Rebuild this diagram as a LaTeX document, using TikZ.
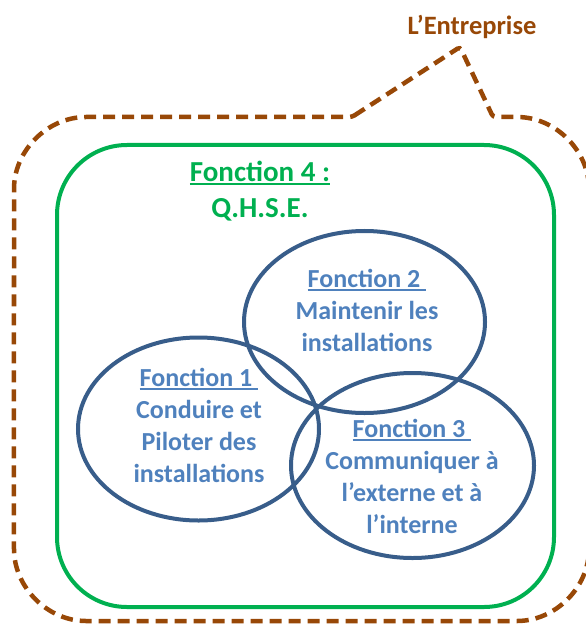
\documentclass[tikz,border=0pt]{standalone}
\usepackage{fontspec}
\setmainfont{Carlito}
\usetikzlibrary{shapes.geometric}
\definecolor{blueline}{HTML}{385D8A}
\definecolor{bluetext}{HTML}{4F81BD}
\definecolor{qgreen}{HTML}{00B050}
\definecolor{brownc}{HTML}{984807}
\newcommand\ulin[1]{\setbox0\hbox{#1}\rlap{\rule[-3.5bp]{\wd0}{2bp}}\box0}
\tikzset{
  callout/.style={draw=brownc, line width=4.5bp, dash pattern=on 12bp off 7bp, rounded corners=3bp},
  qbox/.style={draw=qgreen, line width=4bp, rounded corners=70bp},
  fellipse/.style={ellipse, draw=blueline, line width=4bp, inner sep=0pt},
  ftext/.style={text=bluetext, font=\fontsize{26bp}{32bp}\selectfont\bfseries, align=center, anchor=base, inner sep=0pt},
  gtext/.style={text=qgreen, font=\fontsize{29bp}{35bp}\selectfont\bfseries, align=center, anchor=base, inner sep=0pt},
  btext/.style={text=brownc, font=\fontsize{26.5bp}{30bp}\selectfont\bfseries, anchor=base, inner sep=0pt}
}
\begin{document}
\begin{tikzpicture}[x=1bp, y=-1bp]
\useasboundingbox (0,0) rectangle (586,624);
\clip (0,0) rectangle (586,624);
% company callout
\draw[callout] (352,117) -- (460,47) -- (493,117) -- (514,117)
  arc[start angle=90, end angle=0, radius=75bp] -- (589,546)
  arc[start angle=0, end angle=-90, radius=75bp] -- (89,621)
  arc[start angle=270, end angle=180, radius=75bp] -- (14,192)
  arc[start angle=180, end angle=90, radius=75bp] -- cycle;
\node[btext] (ent) at (472,35) {L’Entreprise};
% QHSE box
\draw[qbox] (57,145) rectangle (554,607);
\node[gtext] (f4) at (260,217) {\ulin{Fonction 4 :}\\Q.H.S.E.};
% ellipses
\node[fellipse, minimum width=241bp, minimum height=183bp] (e1) at (198.5,429) {};
\node[fellipse, minimum width=241bp, minimum height=182bp] (e2) at (364.5,322) {};
\node[fellipse, minimum width=243bp, minimum height=185bp] (e3) at (412.5,465.5) {};
\node[ftext] (t1) at (199,482) {\ulin{Fonction 1\ }\\Conduire et\\Piloter des\\installations};
\node[ftext] (t2) at (367,351) {\ulin{Fonction 2\ }\\Maintenir les\\installations};
\node[ftext] (t3) at (412,533) {\ulin{Fonction 3\ }\\Communiquer à\\l’externe et à\\l’interne};
\end{tikzpicture}
\end{document}
